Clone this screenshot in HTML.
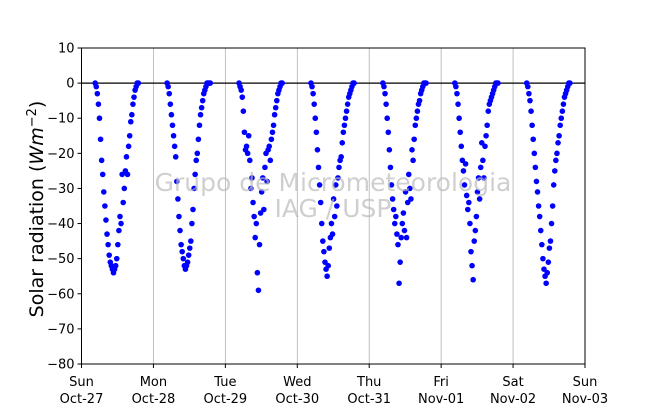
<!DOCTYPE html>
<html><head><meta charset="utf-8"><style>
body{margin:0;background:#fff;}
svg{display:block;font-family:"DejaVu Sans","Liberation Sans",sans-serif;}
</style></head><body>
<svg id="chart" width="650" height="409" viewBox="0 0 650 409">
<rect width="650" height="409" fill="#fff"/>
<g id="grid"></g>
<g id="dots"></g>
<g fill="#bbb" fill-opacity="0.7" font-size="25" text-anchor="middle">
<text x="333" y="191">Grupo de Micrometeorologia</text>
<text x="333" y="217">IAG / USP</text>
</g>
<g id="axes"></g>
<text transform="translate(43,209) rotate(-90)" text-anchor="middle" font-size="19">Solar radiation (<tspan font-style="italic">Wm</tspan><tspan font-size="13" dy="-7">−2</tspan><tspan dy="7">)</tspan></text>
</svg>
<script>
const dayNames=["Sun","Mon","Tue","Wed","Thu","Fri","Sat","Sun"];
const dayDates=["Oct-27","Oct-28","Oct-29","Oct-30","Oct-31","Nov-01","Nov-02","Nov-03"];
const yTicks=[10,0,-10,-20,-30,-40,-50,-60,-70,-80];
const dayFrac=[0.19,0.205,0.22,0.235,0.25,0.265,0.28,0.295,0.31,0.325,0.34,0.355,0.37,0.385,0.4,0.415,0.43,0.445,0.46,0.475,0.49,0.505,0.52,0.535,0.55,0.565,0.58,0.595,0.61,0.625,0.64,0.655,0.67,0.685,0.7,0.715,0.73,0.745,0.76,0.775,0.79];
const day0=[0,-1,-3,-6,-10,-16,-22,-26,-31,-35,-39,-43,-46,-49,-51,-52,-53,-54,-53,-52,-50,-46,-42,-38,-40,-26,-34,-30,-25,-21,-26,-18,-15,-11,-9,-6,-4,-2,-1,0,0];
const day1=[0,-1,-3,-6,-9,-12,-15,-18,-21,-28,-33,-38,-42,-46,-48,-50,-52,-53,-52,-51,-49,-47,-45,-40,-36,-30,-26,-22,-20,-16,-12,-9,-7,-5,-3,-2,-1,0,0,0,0];
const day2=[0,-1,-2,-4,-8,-14,-19,-18,-20,-15,-22,-30,-27,-34,-38,-44,-40,-54,-59,-46,-37,-31,-27,-36,-24,-20,-28,-19,-18,-22,-16,-14,-12,-9,-7,-5,-3,-2,-1,0,0];
const day3=[0,-1,-3,-6,-10,-14,-19,-24,-29,-34,-40,-45,-48,-51,-53,-55,-52,-47,-44,-40,-43,-33,-38,-29,-35,-27,-24,-22,-21,-17,-14,-12,-10,-8,-6,-4,-3,-2,-1,0,0];
const day4=[0,-1,-3,-6,-10,-14,-19,-24,-29,-33,-36,-40,-38,-43,-46,-57,-51,-44,-40,-37,-42,-31,-44,-34,-26,-30,-33,-19,-22,-16,-12,-10,-8,-6,-5,-3,-2,-1,0,0,0];
const day5=[0,-1,-3,-6,-10,-14,-18,-22,-25,-29,-23,-32,-36,-34,-40,-48,-52,-56,-45,-42,-38,-31,-27,-33,-24,-17,-22,-27,-18,-15,-12,-8,-6,-5,-4,-3,-2,-1,0,0,0];
const day6=[0,-1,-3,-5,-8,-12,-16,-20,-24,-28,-31,-35,-38,-42,-46,-50,-53,-55,-57,-54,-51,-47,-45,-40,-35,-29,-25,-22,-20,-17,-15,-12,-10,-8,-6,-4,-3,-2,-1,0,0];
const days=[day0,day1,day2,day3,day4,day5,day6];
const NS="http://www.w3.org/2000/svg";
const L=81.5,R=585,T=48,B=364;
const xS=d=>L+(R-L)*d/7;
const yS=v=>T+(10-v)/90*(B-T);
function mk(tag,attrs,parent){const e=document.createElementNS(NS,tag);for(const k in attrs)e.setAttribute(k,attrs[k]);parent.appendChild(e);return e;}
const grid=document.getElementById('grid'),axes=document.getElementById('axes'),dots=document.getElementById('dots');
for(let i=1;i<7;i++){
const g=mk('line',{x1:xS(i),x2:xS(i),y1:T,y2:B,stroke:'#b0b0b0','stroke-width':0.8},grid);


}
const zl=mk('line',{x1:L,x2:R,y1:yS(0),y2:yS(0),stroke:'#000','stroke-width':1.2},grid);


days.forEach((arr,di)=>{arr.forEach((v,j)=>{
const c=mk('circle',{cx:xS(di+dayFrac[j]),cy:yS(v),r:2.8,fill:'#0000ff'},dots);


});});
const fr=mk('rect',{x:L,y:T,width:R-L,height:B-T,fill:'none',stroke:'#000','stroke-width':1},axes);


yTicks.forEach(v=>{
const t=mk('line',{x1:L-4,x2:L,y1:yS(v),y2:yS(v),stroke:'#000'},axes);


const tx=mk('text',{x:L-7,y:yS(v)+4.5,'text-anchor':'end','font-size':13},axes);
tx.textContent=(v<0?'\u2212'+(-v):String(v));


});
dayNames.forEach((n,i)=>{
const t=mk('line',{x1:xS(i),x2:xS(i),y1:B,y2:B+4,stroke:'#000'},axes);


const tx=mk('text',{x:xS(i),y:386,'text-anchor':'middle','font-size':13},axes);
tx.textContent=n;


const td=mk('text',{x:xS(i),y:403,'text-anchor':'middle','font-size':13},axes);
td.textContent=dayDates[i];


});
</script>
</body></html>
